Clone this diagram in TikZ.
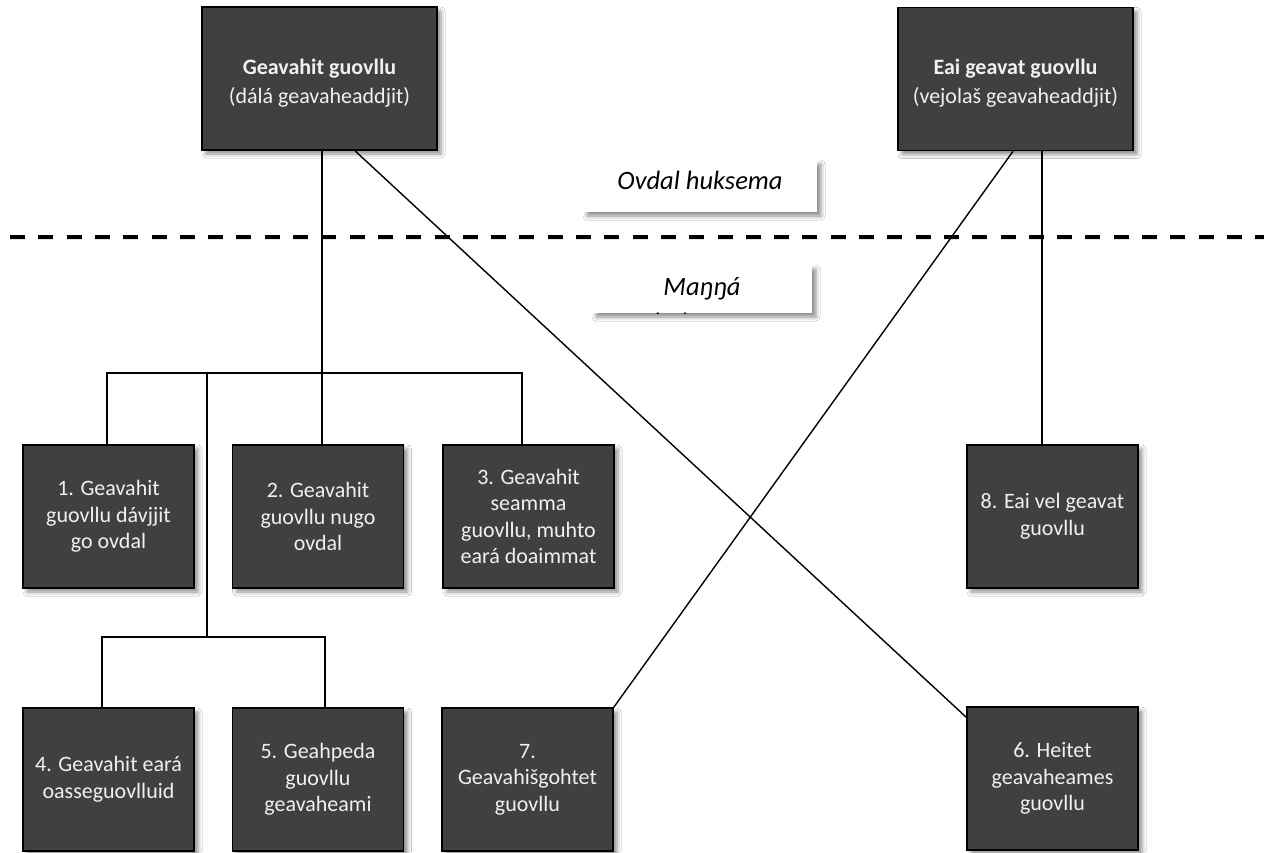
\documentclass[tikz,border=0pt]{standalone}
\usepackage{fontspec}
\setmainfont{Carlito}
\usetikzlibrary{shadows.blur,calc}
\definecolor{boxfill}{HTML}{404040}
\definecolor{boxtext}{HTML}{F0F0F0}
\begin{document}
\begin{tikzpicture}[x=1pt,y=-1pt,
  darkbox/.style={draw=black, line width=1.6pt, fill=boxfill, text=boxtext, align=center,
    minimum width=171pt, minimum height=143pt, inner sep=0pt,
    font=\fontsize{22}{26.6}\selectfont,
    blur shadow={shadow xshift=4pt, shadow yshift=-4pt, shadow blur radius=4pt, shadow opacity=45}},
  topbox/.style={darkbox, minimum width=235pt, font=\fontsize{22}{29}\selectfont},
  labelbox/.style={fill=white, inner sep=0pt,
    blur shadow={shadow xshift=4pt, shadow yshift=-4pt, shadow blur radius=4pt, shadow opacity=45}},
  labeltext/.style={font=\fontsize{26.5}{30}\selectfont\itshape, inner sep=0pt, anchor=base},
  conn/.style={line width=1.4pt, draw=black},
  divider/.style={line width=4.5pt, draw=black, dash pattern=on 15pt off 13.3pt},
]
\useasboundingbox (0,0) rectangle (1264,852);
\fill[white] (0,0) rectangle (1264,852);

% divider
\coordinate (dl) at (10,237);
\coordinate (dr) at (1264,237);
\draw[line width=5pt, draw=black!12, dash pattern=on 15pt off 13.3pt, shift={(3pt,-4pt)}] (dl) -- (dr);
\draw[divider] (dl) -- (dr);

% label boxes
\node[labelbox, minimum width=234pt, minimum height=52pt] (ovbox) at (700,186) {};
\node[labeltext] (ovtext) at (700,189) {Ovdal huksema};
\node[labelbox, minimum width=220pt, minimum height=48pt] (mabox) at (702,289) {};
\begin{scope}
  \clip (mabox.north west) rectangle (mabox.south east);
  \node[labeltext] (matext) at (702,295) {Maŋŋá};
  \node[labeltext] (matext2) at (702,331) {huksema};
\end{scope}

% coordinates of junctions
\coordinate (j1) at (322,373);
\coordinate (barL) at (107,373);
\coordinate (barR) at (522,373);
\coordinate (j2) at (207,373);
\coordinate (j3) at (207,637);
\coordinate (bar2L) at (102,637);
\coordinate (bar2R) at (325,637);
\coordinate (d1) at (355,150);
\coordinate (d2) at (1013,151);
\coordinate (v2) at (1042,151);

% boxes
\node[topbox] (tl) at (319.5,78.5) {\rule{0pt}{24pt}\textbf{Geavahit guovllu}\\(dálá geavaheaddjit)};
\node[topbox] (tr) at (1015.5,79) {\rule{0pt}{24pt}\textbf{Eai geavat guovllu}\\(vejolaš geavaheaddjit)};
\node[darkbox] (b1) at (108.5,516.5) {1. Geavahit\\guovllu dávjjit\\go ovdal};
\node[darkbox] (b2) at (318,516.5) {2. Geavahit\\guovllu nugo\\ovdal};
\node[darkbox] (b3) at (528.5,516.5) {3. Geavahit\\seamma\\guovllu, muhto\\eará doaimmat};
\node[darkbox] (b8) at (1052.5,516.5) {8. Eai vel geavat\\guovllu};
\node[darkbox] (b4) at (108.5,779.5) {4. Geavahit eará\\oasseguovlluid};
\node[darkbox] (b5) at (318,779.5) {5. Geahpeda\\guovllu\\geavaheami};
\node[darkbox] (b7) at (527.5,779.5) {7.\\Geavahišgohtet\\guovllu};
\node[darkbox] (b6) at (1052.5,778.5) {6. Heitet\\geavaheames\\guovllu};

% connectors
\draw[conn] (j1 |- tl.south) -- (j1 |- b2.north);
\draw[conn] (barL |- b1.north) -- (barL) -- (barR) -- (barR |- b3.north);
\draw[conn] (j2) -- (j3);
\draw[conn] (bar2L |- b4.north) -- (bar2L) -- (bar2R) -- (bar2R |- b5.north);
\draw[conn] (d1 |- tl.south) -- ($(b6.north west)+(0,11)$);
\draw[conn] (d2 |- tr.south) -- (b7.north east);
\draw[conn] (v2 |- tr.south) -- (v2 |- b8.north);
\end{tikzpicture}
\end{document}
